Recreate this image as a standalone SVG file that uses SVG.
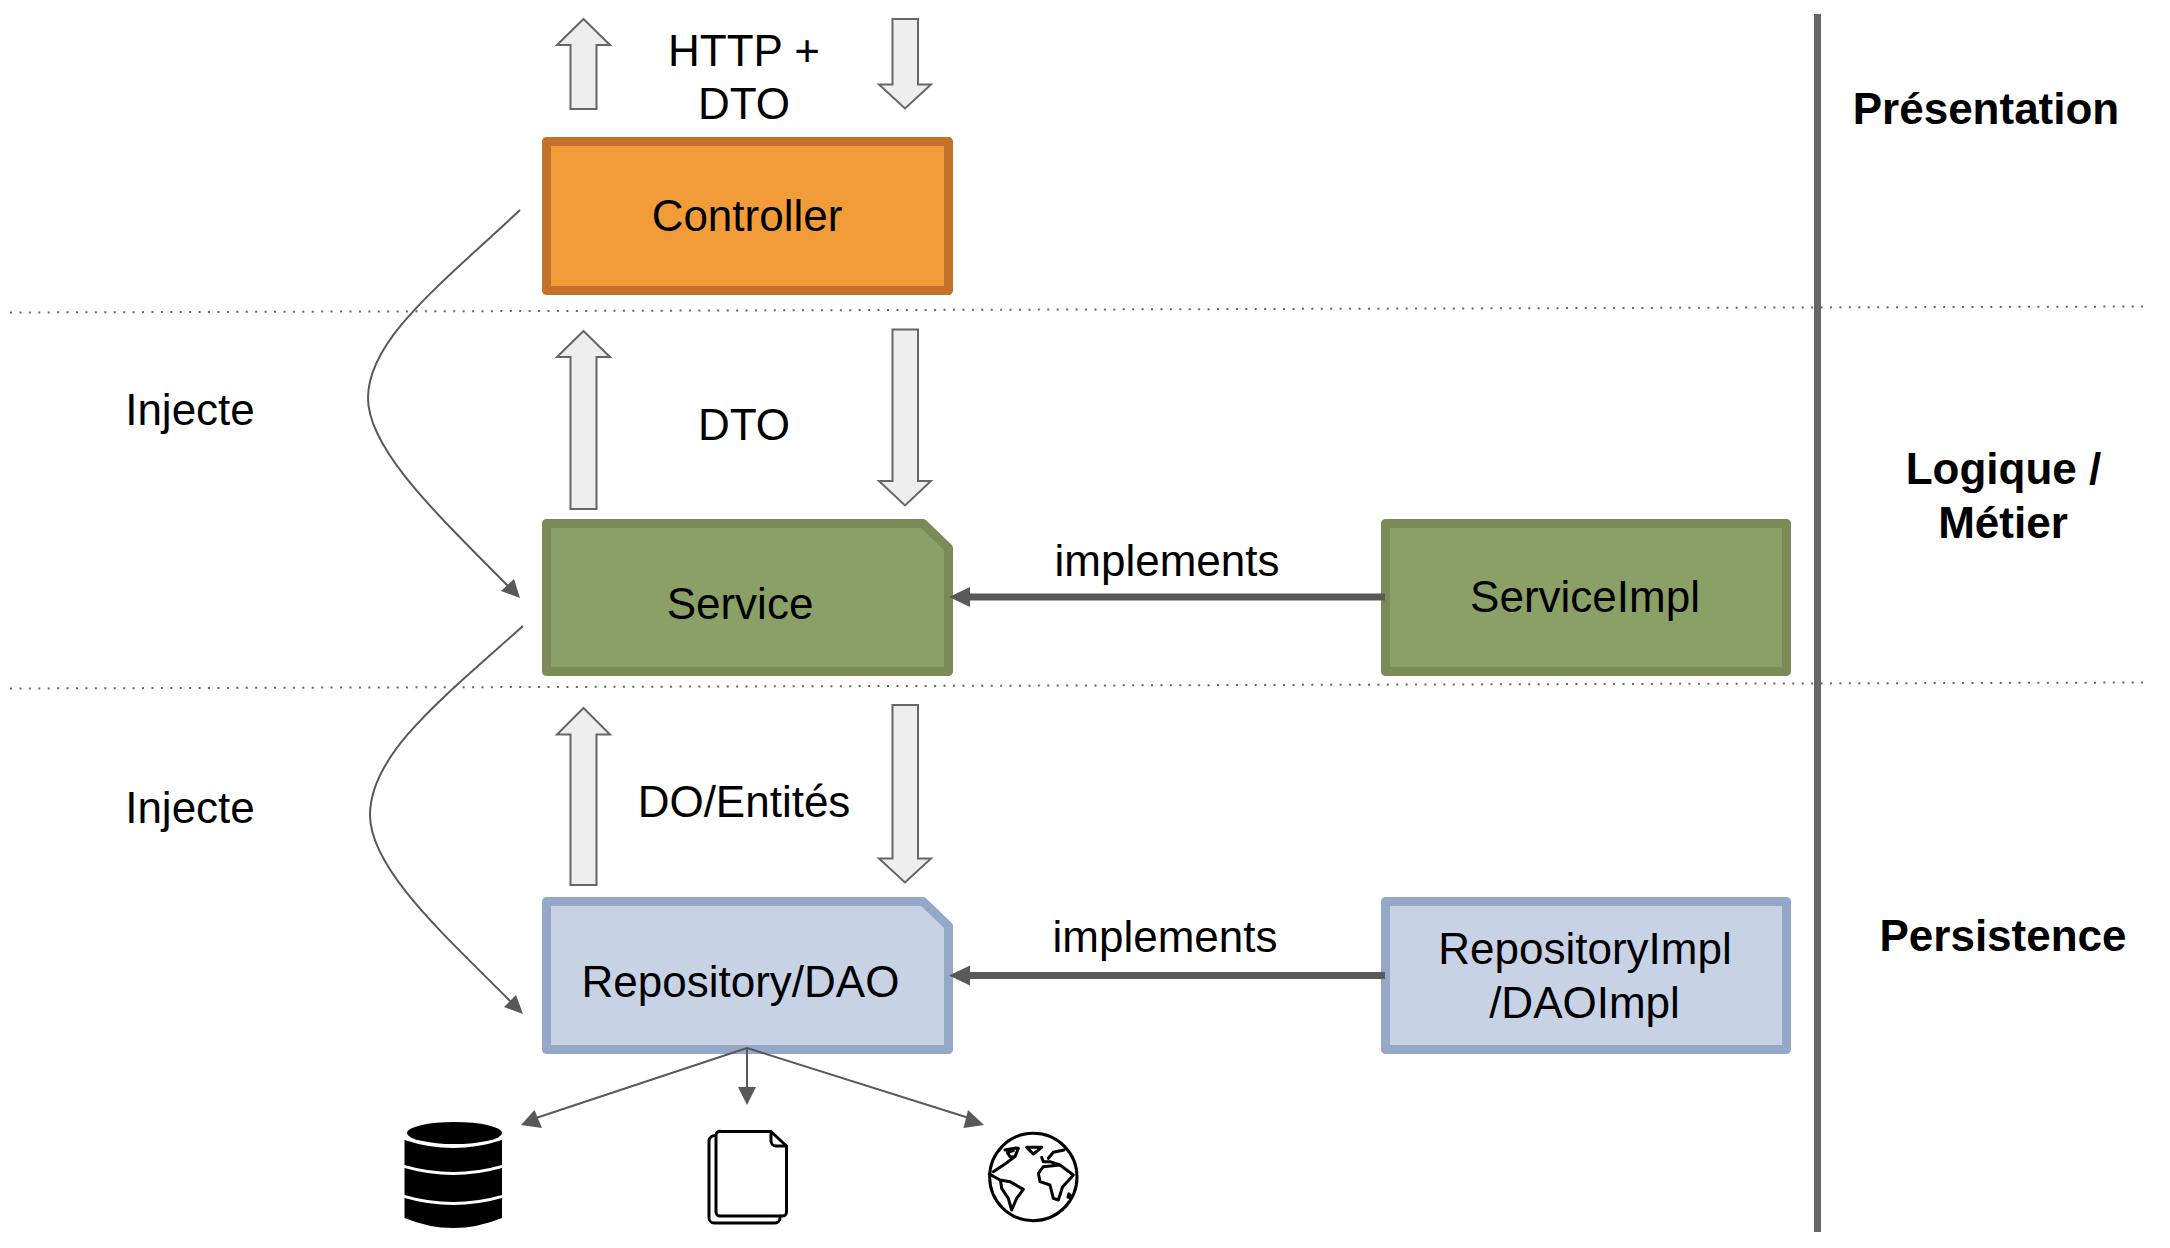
<svg xmlns="http://www.w3.org/2000/svg" width="2170" height="1248" viewBox="0 0 2170 1248">
<style>
text{font-family:"Liberation Sans",Arial,sans-serif;font-size:44px;fill:#000;text-anchor:middle}
.b{font-weight:bold}
.box{stroke-width:9;stroke-linejoin:round}
.or{fill:#F19C38;stroke:#C4722A}
.gr{fill:#8BA066;stroke:#7A8B57}
.bl{fill:#C8D2E5;stroke:#96A8C8}
.ba{fill:#EEEEEE;stroke:#666666;stroke-width:2}
.dot{fill:none;stroke:#666666;stroke-width:2;stroke-dasharray:2 7.43}
.thin{fill:none;stroke:#595959;stroke-width:2}
.thick{fill:none;stroke:#595959;stroke-width:7}
.head{fill:#595959;stroke:none}
.ic{fill:none;stroke:#000;stroke-width:3;stroke-linejoin:round;stroke-linecap:round}
.gl{fill:none;stroke:#000;stroke-width:9;stroke-linejoin:round;stroke-linecap:round}
</style>
<rect width="2170" height="1248" fill="#fff"/>
<g id="separators">
<path class="dot" d="M10,312.500 L2143,306.500"/>
<path class="dot" d="M10,688.500 L2143,682.500"/>
<path d="M1817.500,14 V1232" fill="none" stroke="#666666" stroke-width="7"/>
</g>
<g id="arrows-http">
<path class="ba" d="M570.500,109 V45 H557 L583.500,19 L610,45 H596.500 V109 Z"/>
<path class="ba" d="M892.500,19 H918 V84.500 H931 L905,108.500 L879,84.500 H892.500 Z"/>
<text x="744" y="66">HTTP +</text>
<text x="744" y="119">DTO</text>
</g>
<g id="arrows-dto">
<path class="ba" d="M570.500,509 V357 H557 L583.500,331 L610,357 H596.500 V509 Z"/>
<path class="ba" d="M892.500,329.500 H918 V481 H931 L905,505.500 L879,481 H892.500 Z"/>
<text x="744" y="440">DTO</text>
</g>
<g id="arrows-do">
<path class="ba" d="M570.500,885 V734.500 H557 L583.500,708 L610,734.500 H596.500 V885 Z"/>
<path class="ba" d="M892.500,705 H918 V858.500 H931 L905,882.500 L879,858.500 H892.500 Z"/>
<text x="744" y="817">DO/Entités</text>
</g>
<g id="controller">
<rect class="box or" x="546.500" y="141.500" width="402" height="149"/>
<text x="747" y="231">Controller</text>
</g>
<g id="service">
<path class="box gr" d="M546.500,523.500 H923 L948.500,548 V671.500 H546.500 Z"/>
<text x="740" y="619">Service</text>
</g>
<g id="service-impl">
<rect class="box gr" x="1385.500" y="523.500" width="401" height="148"/>
<text x="1585" y="612">ServiceImpl</text>
</g>
<g id="repository">
<path class="box bl" d="M546.500,901.500 H923 L948.500,926 V1049.500 H546.500 Z"/>
<text x="740.500" y="997">Repository/DAO</text>
</g>
<g id="repository-impl">
<rect class="box bl" x="1385.500" y="901.500" width="401" height="148"/>
<text x="1585" y="964">RepositoryImpl</text>
<text x="1584.500" y="1018">/DAOImpl</text>
</g>
<g id="labels">
<text x="190" y="425">Injecte</text>
<text x="190" y="823">Injecte</text>
<text x="1167" y="576">implements</text>
<text x="1165" y="952">implements</text>
<text class="b" x="1986" y="124">Présentation</text>
<text class="b" x="2003.500" y="484">Logique /</text>
<text class="b" x="2003" y="538">Métier</text>
<text class="b" x="2003" y="951">Persistence</text>
</g>
<g id="database">
<ellipse cx="454.500" cy="1133" rx="47.500" ry="11"/>
<path d="M404.500,1140 Q453,1156 502,1140 V1165 Q453,1179 404.500,1165 Z"/>
<path d="M404.500,1168 Q453,1182 502,1168 V1195 Q453,1209 404.500,1195 Z"/>
<path d="M404.500,1198 Q453,1212 502,1198 V1218 Q453,1238 404.500,1218 Z"/>
</g>
<g id="files">
<path class="ic" d="M721,1131.500 H771 L786.500,1146 V1212 a4,4 0 0 1 -4,4 H720 a4,4 0 0 1 -4,-4 V1136 a4,4 0 0 1 5,-4.500 Z"/>
<path class="ic" d="M771,1131.500 V1141 a5,5 0 0 0 5,5 H786.500"/>
<path class="ic" d="M715,1135.500 a6,6 0 0 0 -6,5 V1218 a5,5 0 0 0 5,5 H775 a5,5 0 0 0 5,-5 v-2"/>
</g>
<g id="globe" transform="translate(980,1120) scale(.3333)">
<circle class="gl" cx="160" cy="171" r="131"/>
<path class="gl" d="M140,82 L185,82 L160,102 Z"/>
<path class="gl" d="M75,90 L108,84 L115,85 L105,110 L90,110 L82,98 L100,92 M40,155 L75,132 L105,110"/>
<path class="gl" d="M28,162 L60,180 L90,185 L130,208 L110,235 L95,270 L85,235 L65,205 L62,185"/>
<path class="gl" d="M185,112 L190,125 L210,125 L240,135 L260,150 L280,165 L262,185 L248,200 L235,240 L220,235 L210,195 L180,185 L175,160 L190,140 L240,135 M205,115 L220,97 L252,90"/>
<path d="M266,220 L272,226 L270,234 L263,232 Z" stroke="#000" stroke-width="7" stroke-linejoin="round"/>
</g>
<g id="connectors">
<path class="thin" d="M520,210 C440,285 368,340 368,398 C368,450 440,517 510,588"/>
<path class="head" d="M520,598 L501,591 L514,579 Z"/>
<path class="thin" d="M523,626 C440,700 370,755 370,815 C370,870 450,940 512,1003"/>
<path class="head" d="M523,1014 L504,1007 L516,995 Z"/>
<path class="thick" d="M1385,597 H968"/>
<path class="head" d="M949,597 L970,587 V607 Z"/>
<path class="thick" d="M1385,975.500 H968"/>
<path class="head" d="M949,975.500 L970,965.500 V985.500 Z"/>
<path class="thin" d="M747,1048 L536,1118"/>
<path class="head" d="M521,1125 L534.500,1110 L542,1128 Z"/>
<path class="thin" d="M747,1048 V1090"/>
<path class="head" d="M747,1105 L738,1087 H756 Z"/>
<path class="thin" d="M747,1048 L969,1118"/>
<path class="head" d="M984,1125 L968,1110 L963.500,1128 Z"/>
</g>
</svg>
